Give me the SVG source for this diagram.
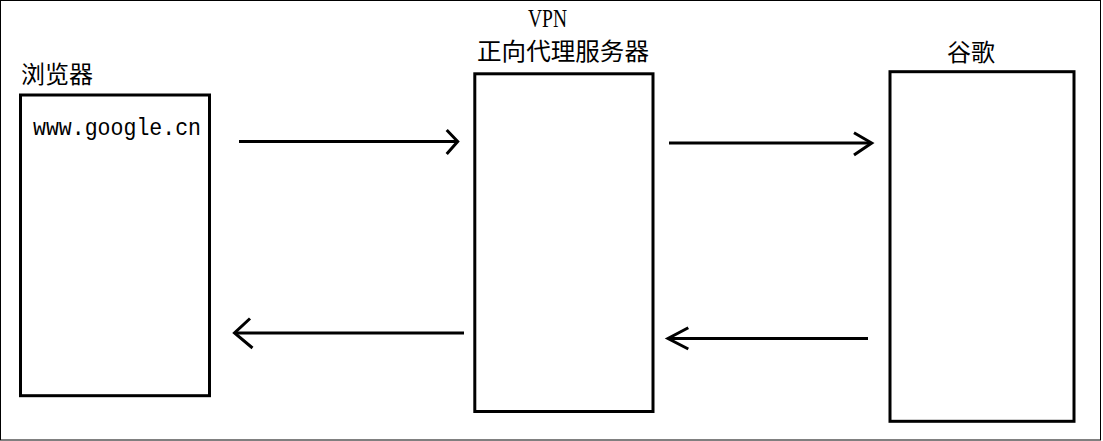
<svg xmlns="http://www.w3.org/2000/svg" width="1103" height="441" viewBox="0 0 1103 441">
<style>
.frame{fill:#fff;stroke:#000;stroke-width:1}
.box{fill:#fff;stroke:#000;stroke-width:3}
.conn{fill:none;stroke:#000;stroke-width:3;stroke-linecap:butt;stroke-linejoin:miter}
.cjk{font-family:"Liberation Serif","Noto Sans CJK SC",serif;font-size:24px;fill:#000}
.lat{font-family:"Liberation Serif","Noto Sans CJK SC",serif;font-size:25px;fill:#000}
.mono{font-family:"Liberation Mono","Noto Sans CJK SC",monospace;font-size:24px;fill:#000}
</style>
<rect class="frame" x="0.5" y="0.5" width="1100" height="439.5"/>
<g id="browser">
<rect class="box" x="20.5" y="95" width="189" height="300.7"/>
<text class="cjk" x="21" y="83" textLength="72" lengthAdjust="spacingAndGlyphs">浏览器</text>
<text class="mono" x="33" y="135" textLength="168" lengthAdjust="spacingAndGlyphs">www.google.cn</text>
</g>
<g id="vpn">
<rect class="box" x="474.8" y="73.8" width="178.2" height="337.7"/>
<text class="lat" x="528" y="27" textLength="39" lengthAdjust="spacingAndGlyphs">VPN</text>
<text class="cjk" x="477" y="60" textLength="172" lengthAdjust="spacingAndGlyphs">正向代理服务器</text>
</g>
<g id="google">
<rect class="box" x="890" y="71.7" width="184" height="349.6"/>
<text class="cjk" x="947" y="61" textLength="48" lengthAdjust="spacingAndGlyphs">谷歌</text>
</g>
<g id="connectors">
<path class="conn" d="M239 141.5H457"/>
<path class="conn" d="M446.7 130L457.7 141.5L446.7 154"/>
<path class="conn" d="M669 143H871"/>
<path class="conn" d="M854 132.7L871.7 143L854 155"/>
<path class="conn" d="M464 333H235"/>
<path class="conn" d="M250 318.5L234.5 333L252.5 348"/>
<path class="conn" d="M868 338.5H668"/>
<path class="conn" d="M688.3 327.7L668 338.5L688.3 349"/>
</g>
</svg>
